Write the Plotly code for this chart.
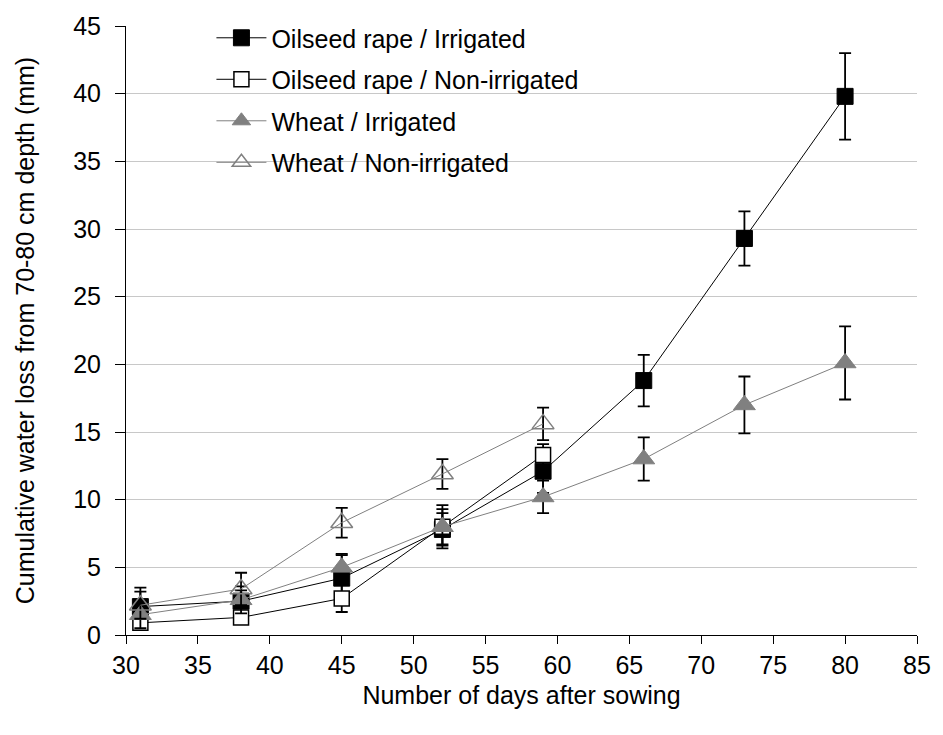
import plotly.graph_objects as go

days_full = [31, 38, 45, 52, 59, 66, 73, 80]
days_short = [31, 38, 45, 52, 59]

or_irr = [2.1, 2.5, 4.2, 7.8, 12.1, 18.8, 29.3, 39.8]
or_irr_err = [1.4, 0.8, 1.8, 1.2, 1.6, 1.9, 2.0, 3.2]
or_non = [0.9, 1.3, 2.7, 8.0, 13.3]
or_non_err = [0.5, 0.5, 1.0, 1.6, 0.8]
wh_irr = [1.5, 2.6, 5.0, 8.0, 10.2, 13.0, 17.0, 20.1]
wh_irr_err = [1.0, 1.0, 0.9, 1.3, 1.2, 1.6, 2.1, 2.7]
wh_non = [2.2, 3.4, 8.3, 11.9, 15.6]
wh_non_err = [1.0, 1.2, 1.1, 1.1, 1.2]

names = ["Oilseed rape / Irrigated", "Oilseed rape / Non-irrigated",
         "Wheat / Irrigated", "Wheat / Non-irrigated"]

GREY = "#808080"


def eb(e):
    return dict(type="data", array=e, visible=True, color="black", thickness=1.8, width=6)


styles = [
    dict(line=dict(color="black", width=1),
         marker=dict(symbol="square", size=16, color="black", line=dict(color="black", width=1))),
    dict(line=dict(color="black", width=1),
         marker=dict(symbol="square", size=15, color="white", line=dict(color="black", width=1.5))),
    dict(line=dict(color=GREY, width=1),
         marker=dict(symbol="triangle-up", size=19, color=GREY, line=dict(color=GREY, width=1))),
    dict(line=dict(color=GREY, width=1),
         marker=dict(symbol="triangle-up-open", size=19, color=GREY, line=dict(color=GREY, width=1.5))),
]

series = [(days_full, or_irr, or_irr_err), (days_short, or_non, or_non_err),
          (days_full, wh_irr, wh_irr_err), (days_short, wh_non, wh_non_err)]

fig = go.Figure()
for (xs, ys, es), st, nm in zip(series, styles, names):
    fig.add_trace(go.Scatter(x=xs, y=ys, name=nm, mode="lines+markers", showlegend=False,
                             error_y=eb(es), **st))
# legend entries (same styles, without error bars)
for i, (st, nm) in enumerate(zip(styles, names)):
    fig.add_trace(go.Scatter(x=[None], y=[None], name=nm, mode="lines+markers",
                             legendgroup=f"g{i}", showlegend=True, **st))

fig.update_layout(
    width=943, height=735,
    margin=dict(l=126, r=22, t=25, b=100),
    paper_bgcolor="white", plot_bgcolor="white",
    font=dict(family="Liberation Sans, Arial, sans-serif", color="black"),
    showlegend=True,
    legend=dict(x=0.108, y=1.018, xanchor="left", yanchor="top", bgcolor="rgba(0,0,0,0)",
                font=dict(size=25), tracegroupgap=6, itemwidth=50),
    xaxis=dict(range=[30, 85], tickvals=list(range(30, 90, 5)), showgrid=False,
               showline=True, linecolor="black", linewidth=1, ticks="outside", ticklen=8,
               tickcolor="black", tickfont=dict(size=25), zeroline=False,
               title=dict(text="Number of days after sowing", font=dict(size=25), standoff=8)),
    yaxis=dict(range=[0, 45], tickvals=list(range(0, 50, 5)), showgrid=True, gridcolor="#c8c8c8",
               showline=True, linecolor="black", linewidth=1, ticks="outside", ticklen=10,
               tickcolor="black", tickfont=dict(size=25), zeroline=False, ticklabelstandoff=9,
               title=dict(text="Cumulative water loss from 70-80 cm depth (mm)", font=dict(size=25), standoff=31)),
)

fig.write_html("out.html")
